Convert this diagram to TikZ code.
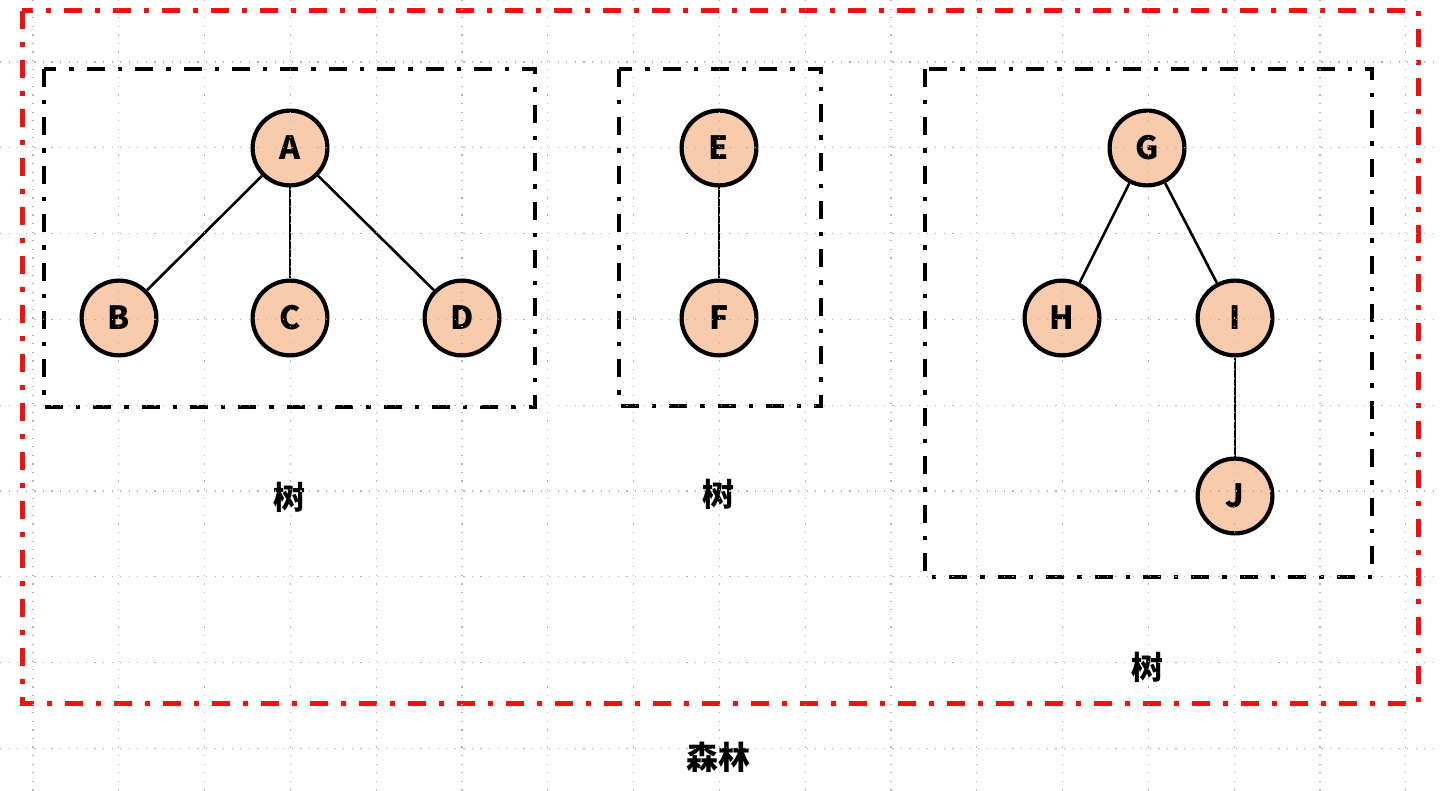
\documentclass[tikz,border=0pt]{standalone}
\usepackage{fontspec}
\setmainfont{Noto Sans CJK SC}
\usepackage{xcolor}
\definecolor{nodefill}{HTML}{F8CBAD}
\definecolor{forestred}{HTML}{F21010}
\definecolor{gridgray}{HTML}{B4B4B4}

\begin{document}
\begin{tikzpicture}[x=0.5pt, y=-0.5pt, font=\bfseries\fontsize{16}{19}\selectfont,
  treenode/.style={circle, draw=black, line width=2.1pt, fill=nodefill, minimum size=37.4pt, inner sep=0pt},
  treelink/.style={line width=1.3pt},
  treebox/.style={line width=2.2pt, dash pattern=on 9pt off 6.5pt on 2.2pt off 6.5pt},
  forestbox/.style={forestred, line width=2.5pt, dash pattern=on 9pt off 6.5pt on 2.5pt off 6.5pt},
  gridline/.style={gridgray, line width=0.6pt, dash pattern=on 0.6pt off 3.69pt}]
  \useasboundingbox (0,0) rectangle (1440,791);

  % forest frame
  \draw[forestbox] (22,11) rectangle (1418,703);

  % tree frames
  \draw[treebox] (44,69) rectangle (535,407);
  \draw[treebox] (619,69) rectangle (821,406);
  \draw[treebox] (925,69) rectangle (1372,577);

  % first tree
  \node[treenode] (a) at (290,148) {A};
  \node[treenode] (b) at (119,318) {B};
  \node[treenode] (c) at (290,318) {C};
  \node[treenode] (d) at (462,318) {D};
  \draw[treelink] (a) -- (b);
  \draw[treelink] (a) -- (c);
  \draw[treelink] (a) -- (d);

  % second tree
  \node[treenode] (e) at (719,148) {E};
  \node[treenode] (f) at (719,318) {F};
  \draw[treelink] (e) -- (f);

  % third tree
  \node[treenode] (g) at (1147,148) {G};
  \node[treenode] (h) at (1062,318) {H};
  \node[treenode] (i) at (1235,318) {I};
  \node[treenode] (j) at (1235,496) {J};
  \draw[treelink] (g) -- (h);
  \draw[treelink] (g) -- (i);
  \draw[treelink] (i) -- (j);

  % labels
  \node (tree1) at (289,497) {树};
  \node (tree2) at (718,494) {树};
  \node (tree3) at (1147,667) {树};
  \node (forest) at (718,757) {森林};

  % background grid dots
  \foreach \gx in {0,...,16}
    \draw[gridline] ({33+85.8*\gx},0) -- ({33+85.8*\gx},791);
  \foreach \gy in {0,...,8}
    \draw[gridline] (0,{62+85.8*\gy}) -- (1440,{62+85.8*\gy});
\end{tikzpicture}
\end{document}
